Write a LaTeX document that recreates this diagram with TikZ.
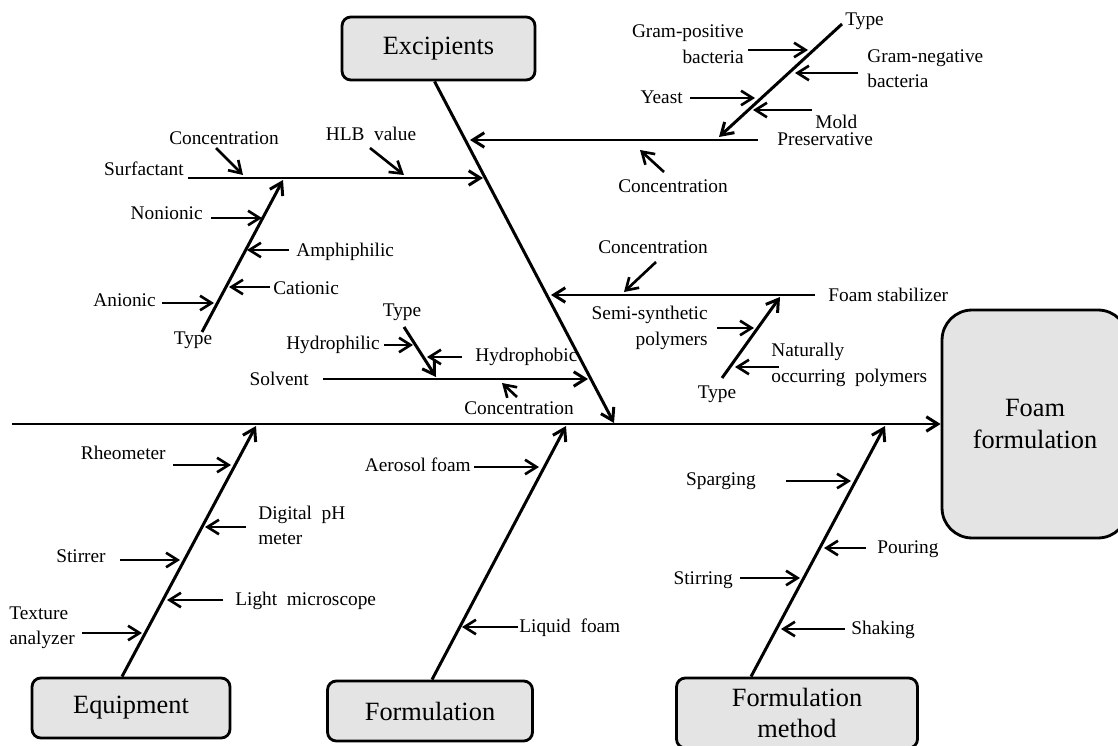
\documentclass[tikz,border=0pt]{standalone}
\usepackage{fontspec}
\setmainfont{Liberation Serif}
\usepackage{xcolor}
\definecolor{ink}{HTML}{000000}
\definecolor{boxfill}{HTML}{E4E4E4}
\usepackage{tikz}
\usetikzlibrary{arrows.meta}
\tikzset{
  >={Straight Barb[length=2.3mm, width=2.9mm]},
  cat/.style={draw=ink, fill=boxfill, rounded corners=5pt, line width=1.6pt, align=center,
    font=\fontsize{15}{18}\selectfont, inner sep=0pt, text=ink},
  lbl/.style={font=\fontsize{11}{14.5}\selectfont, inner sep=0pt, text=ink},
  bone/.style={->, line width=1.7pt, color=ink},
  twig/.style={->, line width=1.5pt, color=ink},
}

\begin{document}
\begin{tikzpicture}[x=0.02cm, y=-0.02cm]
  \clip (0,0) rectangle (1118,746);

  % category boxes and head
  \node[cat, minimum width=3.86cm, minimum height=1.26cm] (exc) at (438.5,48.5) {Excipients};
  \node[cat, minimum width=3.96cm, minimum height=1.2cm] (equ) at (131,708) {Equipment};
  \node[cat, minimum width=4.1cm, minimum height=1.2cm] (frm) at (430,711) {Formulation};
  \node[cat, minimum width=4.82cm, minimum height=1.4cm] (mth) at (797,713) {Formulation\\method};
  \node[cat, rounded corners=0.6cm, minimum width=3.72cm, minimum height=4.56cm]
    (foam) at (1035,424) {Foam\\formulation};

  % spine and main bones
  \coordinate (tail) at (12,424);
  \draw[bone] (tail) -- (foam.west |- tail);
  \coordinate (ext) at (614,423);
  \draw[bone] ([xshift=-0.08cm]exc.south) -- (ext);
  \coordinate (eqt) at (256,426);
  \draw[bone] ([xshift=-0.18cm]equ.north) -- (eqt);
  \coordinate (frt) at (566,426);
  \draw[bone] ([xshift=0.04cm]frm.north) -- (frt);
  \coordinate (mtt) at (885,426);
  \draw[bone] ([xshift=-0.92cm]mth.north) -- (mtt);

  % preservative
  \coordinate (pr0) at (758,140); \coordinate (pr1) at (470,140);
  \draw[bone] (pr0) -- (pr1);
  \node[lbl, anchor=mid west] (prl) at (777,141) {Preservative};
  \coordinate (pt0) at (842,24); \coordinate (pt1) at (719,137);
  \draw[bone] (pt0) -- (pt1);
  \node[lbl, anchor=mid west] (ptl) at (845,21) {Type};
  \node[lbl, align=right, anchor=east] (gpl) at (744,44) {Gram-positive\\bacteria};
  \coordinate (gp0) at (748,50); \coordinate (gp1) at (808,50);
  \draw[twig] (gp0) -- (gp1);
  \node[lbl, align=left, anchor=west] (gnl) at (867,68.5) {Gram-negative\\bacteria};
  \coordinate (gn0) at (858,73); \coordinate (gn1) at (795,73);
  \draw[twig] (gn0) -- (gn1);
  \node[lbl, anchor=mid east] (yel) at (683,99) {Yeast};
  \coordinate (ye0) at (690,98); \coordinate (ye1) at (755,98);
  \draw[twig] (ye0) -- (ye1);
  \node[lbl, anchor=mid west] (mol) at (815,124) {Mold};
  \coordinate (mo0) at (812,110); \coordinate (mo1) at (753,110);
  \draw[twig] (mo0) -- (mo1);
  \node[lbl] (pcl) at (673,186) {Concentration};
  \coordinate (pc0) at (664,172); \coordinate (pc1) at (640,150);
  \draw[twig] (pc0) -- (pc1);

  % surfactant
  \coordinate (sf0) at (188,178); \coordinate (sf1) at (483,178);
  \draw[bone] (sf0) -- (sf1);
  \node[lbl, anchor=mid east] (sfl) at (184,171) {Surfactant};
  \node[lbl] (scl) at (224,138) {Concentration};
  \coordinate (sc0) at (216,148); \coordinate (sc1) at (243,175);
  \draw[twig] (sc0) -- (sc1);
  \node[lbl] (hll) at (371,134) {HLB\ \ value};
  \coordinate (hl0) at (370,148); \coordinate (hl1) at (404,175);
  \draw[twig] (hl0) -- (hl1);
  \coordinate (sb0) at (202,332); \coordinate (sb1) at (283,180);
  \draw[bone] (sb0) -- (sb1);
  \node[lbl] (sbl) at (193,340) {Type};
  \node[lbl, anchor=mid east] (nil) at (203,215) {Nonionic};
  \coordinate (ni0) at (211,218); \coordinate (ni1) at (262,218);
  \draw[twig] (ni0) -- (ni1);
  \node[lbl, anchor=mid west] (aml) at (296,252) {Amphiphilic};
  \coordinate (am0) at (289,250); \coordinate (am1) at (247,250);
  \draw[twig] (am0) -- (am1);
  \node[lbl, anchor=mid west] (cal) at (273,290) {Cationic};
  \coordinate (ca0) at (270,287); \coordinate (ca1) at (229,287);
  \draw[twig] (ca0) -- (ca1);
  \node[lbl, anchor=mid east] (anl) at (156,302) {Anionic};
  \coordinate (an0) at (162,303); \coordinate (an1) at (214,303);
  \draw[twig] (an0) -- (an1);

  % foam stabilizer
  \coordinate (fs0) at (815,295); \coordinate (fs1) at (551,295);
  \draw[bone] (fs0) -- (fs1);
  \node[lbl, anchor=mid west] (fsl) at (828,297) {Foam stabilizer};
  \node[lbl] (fcl) at (653,247) {Concentration};
  \coordinate (fc0) at (656,262); \coordinate (fc1) at (624,292);
  \draw[twig] (fc0) -- (fc1);
  \coordinate (fb0) at (722,378); \coordinate (fb1) at (780,297);
  \draw[bone] (fb0) -- (fb1);
  \node[lbl] (fbl) at (717,394) {Type};
  \node[lbl, align=right, anchor=east] (ssl) at (708,328) {Semi-synthetic\\polymers};
  \coordinate (ss0) at (717,328); \coordinate (ss1) at (754,328);
  \draw[twig] (ss0) -- (ss1);
  \node[lbl, align=left, anchor=west] (npl) at (771,365) {Naturally\\occurring\ \ polymers};
  \coordinate (np0) at (779,367); \coordinate (np1) at (735,367);
  \draw[twig] (np0) -- (np1);

  % solvent
  \coordinate (sv0) at (323,379); \coordinate (sv1) at (588,379);
  \draw[bone] (sv0) -- (sv1);
  \node[lbl, anchor=mid east] (svl) at (309,381) {Solvent};
  \coordinate (vb0) at (404,327); \coordinate (vb1) at (436,377);
  \draw[bone] (vb0) -- (vb1);
  \node[lbl] (vbl) at (402,312) {Type};
  \node[lbl, anchor=mid east] (hpl) at (380,345) {Hydrophilic};
  \coordinate (hp0) at (384,345); \coordinate (hp1) at (413,345);
  \draw[twig] (hp0) -- (hp1);
  \node[lbl, anchor=mid west] (hbl) at (475,357) {Hydrophobic};
  \coordinate (hb0) at (462,357); \coordinate (hb1) at (427,357);
  \draw[twig] (hb0) -- (hb1);
  \node[lbl] (vcl) at (519,408) {Concentration};
  \coordinate (vc0) at (517,397); \coordinate (vc1) at (502,383);
  \draw[twig] (vc0) -- (vc1);

  % equipment
  \node[lbl, anchor=mid east] (rhl) at (166,455) {Rheometer};
  \coordinate (rh0) at (173,465); \coordinate (rh1) at (231,465);
  \draw[twig] (rh0) -- (rh1);
  \node[lbl, align=left, anchor=west] (dpl) at (258,525.5) {Digital\ \ pH\\meter};
  \coordinate (dp0) at (246,527); \coordinate (dp1) at (205,527);
  \draw[twig] (dp0) -- (dp1);
  \node[lbl, anchor=mid east] (stl) at (106,558) {Stirrer};
  \coordinate (st0) at (120,560); \coordinate (st1) at (180,560);
  \draw[twig] (st0) -- (st1);
  \node[lbl, anchor=mid west] (lml) at (235,601) {Light\ \ microscope};
  \coordinate (lm0) at (223,600); \coordinate (lm1) at (167,600);
  \draw[twig] (lm0) -- (lm1);
  \node[lbl, align=left, anchor=west] (tal) at (9,628) {Texture\\analyzer};
  \coordinate (ta0) at (82,633); \coordinate (ta1) at (142,633);
  \draw[twig] (ta0) -- (ta1);

  % formulation
  \node[lbl, anchor=mid east] (ael) at (471,467) {Aerosol foam};
  \coordinate (ae0) at (474,467); \coordinate (ae1) at (539,467);
  \draw[twig] (ae0) -- (ae1);
  \node[lbl, anchor=mid west] (lfl) at (519,628) {Liquid\ \ foam};
  \coordinate (lf0) at (518,627); \coordinate (lf1) at (462,627);
  \draw[twig] (lf0) -- (lf1);

  % formulation method
  \node[lbl, anchor=mid east] (sgl) at (756,481) {Sparging};
  \coordinate (sg0) at (786,481); \coordinate (sg1) at (851,481);
  \draw[twig] (sg0) -- (sg1);
  \node[lbl, anchor=mid west] (pol) at (877,549) {Pouring};
  \coordinate (po0) at (866,548); \coordinate (po1) at (824,548);
  \draw[twig] (po0) -- (po1);
  \node[lbl, anchor=mid east] (srl) at (733,580) {Stirring};
  \coordinate (sr0) at (740,578); \coordinate (sr1) at (800,578);
  \draw[twig] (sr0) -- (sr1);
  \node[lbl, anchor=mid west] (skl) at (851,630) {Shaking};
  \coordinate (sk0) at (845,629); \coordinate (sk1) at (781,629);
  \draw[twig] (sk0) -- (sk1);
\end{tikzpicture}
\end{document}
